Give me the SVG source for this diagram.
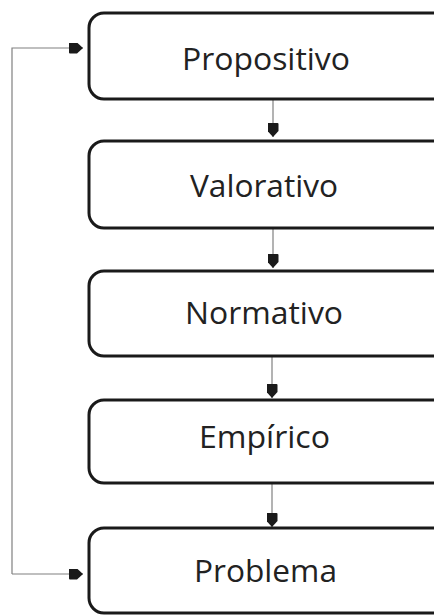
<svg xmlns="http://www.w3.org/2000/svg" width="434" height="615" viewBox="0 0 434 615">
<defs>
<style>
.box{fill:#fff;stroke:#1a1a1a;stroke-width:3}
.lbl{font-family:"Open Sans","DejaVu Sans",sans-serif;font-size:31px;fill:#222;text-anchor:middle}
.con{fill:none;stroke:#808080;stroke-width:1.2}
.head{fill:#1a1a1a}
</style>
<marker id="ah" viewBox="0 0 14 11" refX="14" refY="5.5" markerWidth="14" markerHeight="11" markerUnits="userSpaceOnUse" orient="auto">
<path class="head" d="M0,1 Q0,0 1,0 L8,0 L14,5.5 L8,11 L1,11 Q0,11 0,10 Z"/>
</marker>
</defs>
<rect width="434" height="615" fill="#fff"/>
<g id="connectors">
<path class="con" d="M273,99 V137" marker-end="url(#ah)"/>
<path class="con" d="M273,228 V268" marker-end="url(#ah)"/>
<path class="con" d="M272,356 V398" marker-end="url(#ah)"/>
<path class="con" d="M272,483 V527" marker-end="url(#ah)"/>
<path class="con" d="M12,574 V48 H83" marker-end="url(#ah)"/>
<path class="con" d="M12,574 H83" marker-end="url(#ah)"/>
</g>
<g id="propositivo">
<rect class="box" x="89" y="13" width="360" height="86" rx="15"/>
<text class="lbl" x="266" y="70" textLength="168" lengthAdjust="spacingAndGlyphs">Propositivo</text>
</g>
<g id="valorativo">
<rect class="box" x="89" y="141" width="360" height="87" rx="15"/>
<text class="lbl" x="264" y="197" textLength="148" lengthAdjust="spacingAndGlyphs">Valorativo</text>
</g>
<g id="normativo">
<rect class="box" x="89" y="271" width="360" height="85" rx="15"/>
<text class="lbl" x="264" y="324" textLength="158" lengthAdjust="spacingAndGlyphs">Normativo</text>
</g>
<g id="empirico">
<rect class="box" x="89" y="400" width="360" height="83" rx="15"/>
<text class="lbl" x="264.5" y="448" textLength="131" lengthAdjust="spacingAndGlyphs">Empírico</text>
</g>
<g id="problema">
<rect class="box" x="89" y="528" width="360" height="85" rx="15"/>
<text class="lbl" x="265.5" y="582" textLength="143" lengthAdjust="spacingAndGlyphs">Problema</text>
</g>
</svg>
